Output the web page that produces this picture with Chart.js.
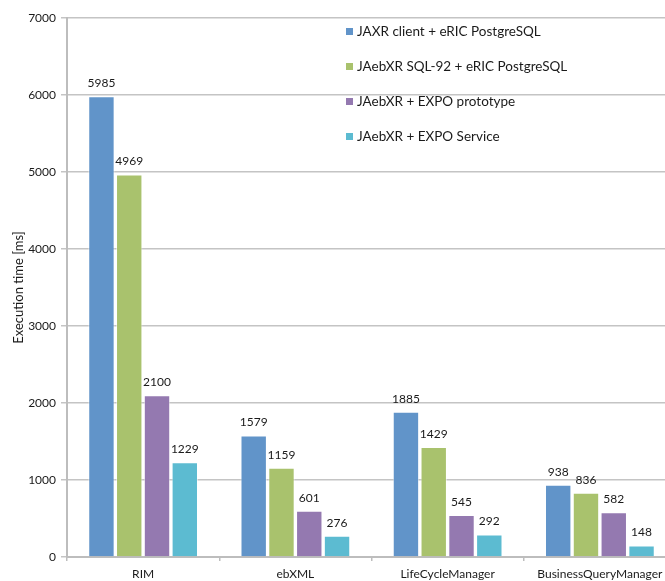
<!DOCTYPE html>
<html>
<head>
<meta charset="utf-8">
<script src="https://cdn.jsdelivr.net/npm/chart.js@4/dist/chart.umd.min.js"></script>
<style>
  html, body { margin: 0; padding: 0; background: #fff; overflow: hidden; }
  #wrap { width: 676px; height: 581px; position: relative; }
</style>
</head>
<body>
<div id="wrap"><canvas id="c" width="676" height="581"></canvas></div>
<script>
// Query groups on the x axis
const categories = ['RIM', 'ebXML', 'LifeCycleManager', 'BusinessQueryManager'];

// Execution times in milliseconds for each configuration
const seriesNames = [
  'JAXR client + eRIC PostgreSQL',
  'JAebXR SQL-92 + eRIC PostgreSQL',
  'JAebXR + EXPO prototype',
  'JAebXR + EXPO Service'
];
const jaxrClient   = [5985, 1579, 1885, 938];
const jaebxrSql92  = [4969, 1159, 1429, 836];
const expoProto    = [2100, 601, 545, 582];
const expoService  = [1229, 276, 292, 148];

const yTicks = [0, 1000, 2000, 3000, 4000, 5000, 6000, 7000];

const colors = ['#6194C9', '#A9C26D', '#9479B0', '#5CBBD1'];
const fontFamily = 'Lato, "Liberation Sans", sans-serif';

// Value labels above each bar
const valueLabels = {
  id: 'valueLabels',
  afterDatasetsDraw(chart) {
    const ctx = chart.ctx;
    ctx.save();
    ctx.font = '12px ' + fontFamily;
    ctx.fillStyle = '#1a1a1a';
    ctx.textAlign = 'center';
    ctx.textBaseline = 'middle';
    chart.data.datasets.forEach((ds, i) => {
      chart.getDatasetMeta(i).data.forEach((bar, j) => {
        ctx.fillText(String(ds.data[j]), bar.x, bar.y - 13);
      });
    });
    ctx.restore();
  }
};

// Legend stacked inside the plot, top right
const insideLegend = {
  id: 'insideLegend',
  afterDraw(chart) {
    const ctx = chart.ctx;
    ctx.save();
    ctx.font = '13.5px ' + fontFamily;
    ctx.textBaseline = 'middle';
    ctx.textAlign = 'left';
    chart.data.datasets.forEach((ds, i) => {
      const y = 32 + i * 35;
      ctx.fillStyle = ds.backgroundColor;
      ctx.fillRect(346, y - 4, 7, 7);
      ctx.fillStyle = '#1a1a1a';
      ctx.fillText(ds.label, 357, y);
    });
    ctx.restore();
  }
};

const seriesValues = [jaxrClient, jaebxrSql92, expoProto, expoService];

new Chart(document.getElementById('c'), {
  type: 'bar',
  data: {
    labels: categories,
    datasets: seriesValues.map((vals, i) => ({
      label: seriesNames[i],
      data: vals,
      backgroundColor: colors[i],
      borderColor: 'rgba(255,255,255,0.55)',
      borderWidth: 1,
      categoryPercentage: 0.73,
      barPercentage: 0.95
    }))
  },
  options: {
    responsive: false,
    animation: false,
    layout: { padding: { top: 18, right: 0, bottom: 0, left: 0 } },
    plugins: {
      legend: { display: false },
      tooltip: { enabled: false }
    },
    scales: {
      x: {
        grid: {
          display: true,
          drawOnChartArea: false,
          drawTicks: true,
          tickLength: 4,
          offset: true,
          color: '#BDBDBD',
          lineWidth: 1.5
        },
        border: { display: true, color: '#BDBDBD', width: 2 },
        ticks: {
          color: '#1a1a1a',
          font: { family: fontFamily, size: 12 },
          padding: 6,
          maxRotation: 0
        },
        afterFit(scale) { scale.height = 24; }
      },
      y: {
        min: 0,
        max: 7000,
        afterBuildTicks(scale) { scale.ticks = yTicks.map(v => ({ value: v })); },
        grid: {
          color: '#C4C4C4',
          lineWidth: 1.5,
          tickLength: 6
        },
        border: { display: true, color: '#BDBDBD', width: 2 },
        ticks: {
          color: '#1a1a1a',
          font: { family: fontFamily, size: 12 },
          padding: 5,
          callback: (v) => String(v)
        },
        title: {
          display: true,
          text: 'Execution time [ms]',
          color: '#1a1a1a',
          font: { family: fontFamily, size: 13 },
          padding: { top: 11, bottom: 0 }
        },
        afterFit(scale) { scale.width = 67; }
      }
    }
  },
  plugins: [valueLabels, insideLegend]
});
</script>
</body>
</html>
